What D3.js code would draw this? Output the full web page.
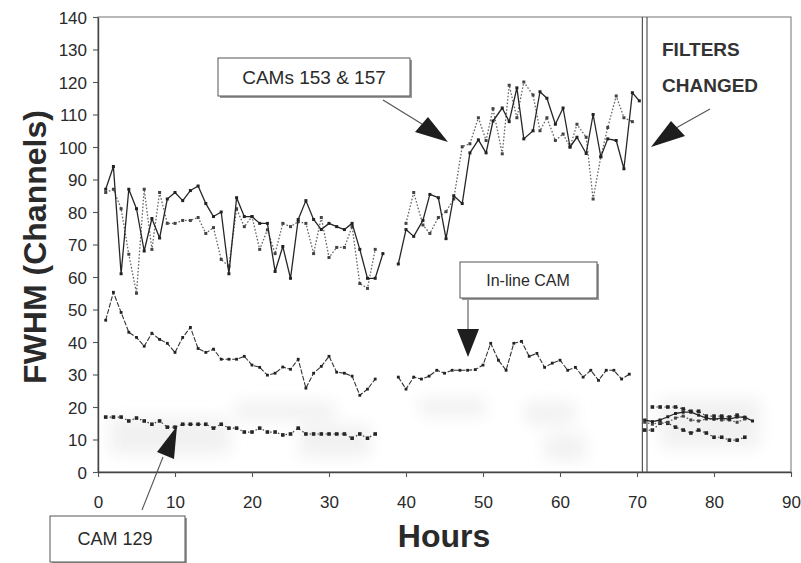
<!DOCTYPE html>
<html>
<head>
<meta charset="utf-8">
<script src="https://cdn.jsdelivr.net/npm/d3@7/dist/d3.min.js"></script>
<style>
  body { margin: 0; background: #fff; }
  svg { display: block; font-family: Arial, "Liberation Sans", sans-serif; }
</style>
</head>
<body>
<svg id="chart" width="801" height="563"></svg>
<script>
// ---- Axis ticks ----
const xTickValues = [0, 10, 20, 30, 40, 50, 60, 70, 80, 90];
const yTickValues = [0, 10, 20, 30, 40, 50, 60, 70, 80, 90, 100, 110, 120, 130, 140];

// ---- CAM 153 (solid line), two runs before the filter change ----
const cam153HoursA = [1, 2, 3, 4, 5, 6, 7, 8, 9, 10, 11, 12, 13, 14, 15, 16, 17, 18, 19, 20, 21, 22, 23, 24, 25, 26, 27, 28, 29, 30, 31, 32, 33, 34, 35, 36, 37];
const cam153ValuesA = [87, 94, 61, 87, 81, 68, 78, 72, 84, 86, 83.5, 86.6, 88, 82.6, 78.6, 80, 61, 84.4, 78.6, 78.6, 76.5, 76.5, 61.7, 69.4, 59.6, 77.7, 83.5, 77.7, 74.6, 76.5, 75.5, 74.6, 76.5, 68.5, 59.6, 59.6, 67.2];
const cam153HoursB = [39, 40, 41, 42.2, 43.1, 44.2, 45.2, 46.2, 47.3, 48.3, 49.4, 50.4, 51.3, 52.5, 53.4, 54.4, 55.3, 56.5, 57.4, 58.3, 59.4, 60.4, 61.3, 62.2, 63.4, 64.3, 65.3, 66.2, 67.3, 68.3, 69.4, 70.3];
const cam153ValuesB = [64, 74.6, 72.5, 77.4, 85.4, 84.4, 71.8, 85, 82.6, 98.2, 102.2, 98.2, 108, 112, 107.8, 118.2, 102.5, 105, 117, 115, 107, 112, 100, 103, 98, 110, 97, 102.5, 102, 93.3, 116.7, 114.2];

// ---- CAM 157 (dotted line) ----
const cam157HoursA = [1, 2, 3, 4, 5, 6, 7, 8, 9, 10, 11, 12, 13, 14, 15, 16, 17, 18, 19, 20, 21, 22, 23, 24, 25, 26, 27, 28, 29, 30, 31, 32, 33, 34, 35, 36];
const cam157ValuesA = [86, 87, 81, 67, 55, 87, 68.5, 86, 76.5, 76.5, 77.4, 77.4, 78.3, 73.4, 75.2, 65.4, 63.3, 81, 75.5, 78.6, 68.5, 74.5, 67.2, 76.5, 75.5, 77, 76.5, 67.2, 78.3, 66, 69.1, 69.1, 75.5, 58, 56.5, 68.5];
const cam157HoursB = [40, 41, 42.2, 43.1, 44.2, 45.2, 46.2, 47.3, 48.3, 49.4, 50.4, 51.3, 52.5, 53.4, 54.4, 55.3, 56.5, 57.4, 58.3, 59.4, 60.4, 61.3, 62.2, 63.4, 64.3, 65.3, 66.2, 67.3, 68.3, 69.4];
const cam157ValuesB = [76.5, 86, 76, 73.4, 78.3, 80.1, 84, 100.1, 101, 109, 102, 111.8, 97.9, 119, 109, 120, 116, 105, 109, 102, 104, 100, 107, 103, 84, 97, 106, 115.7, 109, 107.8];

// ---- In-line CAM ----
const inlineHoursA = [1, 2, 3, 4, 5, 6, 7, 8, 9, 10, 11, 12, 13, 14, 15, 16, 17, 18, 19, 20, 21, 22, 23, 24, 25, 26, 27, 28, 29, 30, 31, 32, 33, 34, 35, 36];
const inlineValuesA = [46.7, 55.3, 49.1, 43, 41.4, 38.7, 42.7, 40.8, 39.6, 36.8, 41.4, 44.5, 38, 36.8, 37.8, 34.7, 34.7, 34.7, 35.6, 32.9, 32.2, 29.8, 30.4, 32.3, 31.6, 34.7, 25.8, 30.4, 32.5, 35.6, 30.7, 30.4, 29.5, 23.6, 25.5, 28.6];
const inlineHoursB = [39, 40, 41, 42, 43, 44, 45, 46, 47, 48, 49, 50, 51, 52, 53, 54, 55, 56, 57, 58, 59, 60, 61, 62, 63, 64, 65, 66, 67, 68, 69];
const inlineValuesB = [29.2, 25.5, 29.2, 28.6, 29.5, 31.3, 30.4, 31.3, 31.3, 31.3, 31.5, 32.9, 39.6, 34.4, 31.3, 39.6, 40.2, 35.6, 36.5, 32.2, 33.5, 34.4, 31.3, 32.2, 29.2, 31.3, 28.2, 31.3, 31.3, 28.6, 30.1];

// ---- CAM 129 ----
const cam129Hours = [1, 2, 3, 4, 5, 6, 7, 8, 9, 10, 11, 12, 13, 14, 15, 16, 17, 18, 19, 20, 21, 22, 23, 24, 25, 26, 27, 28, 29, 30, 31, 32, 33, 34, 35, 36];
const cam129Values = [16.9, 16.9, 16.9, 15.7, 16.6, 15.7, 14.7, 15.7, 13.8, 13.8, 14.7, 14.7, 14.7, 14.7, 13.5, 14.7, 13.5, 13.5, 12.3, 12.3, 13.5, 12.3, 12.3, 11.4, 11.7, 13.5, 11.7, 11.7, 11.7, 11.7, 11.7, 11.7, 10.4, 11.7, 10.4, 11.7];

// ---- After the filter change ----
const filterChangeHour = 71;
const afterHoursA = [72, 73, 74, 75, 76, 77, 78, 79, 80, 81, 82, 83, 84];
const afterValuesA = [20, 20, 20, 20, 19.4, 18.7, 18.7, 17.2, 17.2, 17.2, 16.9, 17.5, 16.6];
const afterHoursB = [71, 72, 73, 74, 75, 76, 77, 78, 79, 80, 81, 82, 83, 84];
const afterValuesB = [12.9, 12.9, 15, 15, 13.8, 12.9, 12, 12.9, 12, 10.7, 10.7, 9.8, 9.8, 10.7];
const afterHoursC = [71, 72, 73, 74, 75, 76, 77, 78, 79, 80, 81, 82, 83, 84, 85];
const afterValuesC = [16, 15.5, 16, 17, 18, 18.4, 18.4, 17.5, 16.6, 16.3, 16.6, 16.3, 16.9, 16.9, 15.7];
const afterHoursD = [71, 72, 73, 74, 75, 76, 77, 78, 79, 80, 81, 82, 83, 84];
const afterValuesD = [15.3, 14.7, 15.3, 15.3, 16.6, 17.2, 16, 15.7, 16.3, 16.3, 16, 16, 15.3, 16.3];

// ---- Layout ----
const svg = d3.select("#chart");
const plot = { left: 98, right: 791, top: 17, bottom: 472 };
const x = d3.scaleLinear().domain([0, 90]).range([plot.left, plot.right]);
const y = d3.scaleLinear().domain([0, 140]).range([plot.bottom, plot.top]);
const ink = "#2a2a2a";

// soft blur used for the faint grey haze in the lower band
const defs = svg.append("defs");
defs.append("filter").attr("id", "haze").attr("x", "-30%").attr("y", "-80%")
  .attr("width", "160%").attr("height", "260%")
  .append("feGaussianBlur").attr("stdDeviation", 8);

const hazeBand = svg.append("g").attr("filter", "url(#haze)").attr("fill", "#f1f1f1");
[[110, 418, 120, 36], [235, 402, 100, 18], [300, 425, 70, 32],
 [420, 398, 65, 18], [525, 402, 50, 22], [545, 435, 40, 25], [660, 398, 100, 50]]
  .forEach(([hx, hy, hw, hh]) => {
    hazeBand.append("rect").attr("x", hx).attr("y", hy).attr("width", hw).attr("height", hh);
  });

// plot frame
svg.append("rect")
  .attr("x", plot.left).attr("y", plot.top)
  .attr("width", plot.right - plot.left).attr("height", plot.bottom - plot.top)
  .attr("fill", "none").attr("stroke", "#8a8a8a").attr("stroke-width", 1.2);

// axes
const xAxis = d3.axisBottom(x).tickValues(xTickValues).tickSize(5).tickSizeOuter(0).tickPadding(19);
const yAxis = d3.axisLeft(y).tickValues(yTickValues).tickSize(5).tickSizeOuter(0).tickPadding(6);

const gx = svg.append("g").attr("transform", `translate(0,${plot.bottom})`).call(xAxis);
const gy = svg.append("g").attr("transform", `translate(${plot.left},0)`).call(yAxis);
[gx, gy].forEach(g => {
  g.select(".domain").attr("stroke", "#444").attr("stroke-width", 1.4);
  g.selectAll(".tick line").attr("stroke", "#555").attr("stroke-width", 1.1);
  g.selectAll(".tick text").attr("fill", ink).attr("font-size", 17)
    .attr("font-family", "Arial, 'Liberation Sans', sans-serif");
});
gy.selectAll(".tick text").attr("dy", "0.36em");

// axis titles
svg.append("text")
  .attr("transform", `translate(46,247) rotate(-90)`)
  .attr("text-anchor", "middle")
  .attr("font-size", 32).attr("font-weight", "bold").attr("fill", ink)
  .text("FWHM (Channels)");
svg.append("text")
  .attr("x", 444).attr("y", 547)
  .attr("text-anchor", "middle")
  .attr("font-size", 32).attr("font-weight", "bold").attr("fill", ink)
  .text("Hours");

// filter change marker: double vertical rule
[-2.3, 2.3].forEach(off => {
  svg.append("line")
    .attr("x1", x(filterChangeHour) + off).attr("x2", x(filterChangeHour) + off)
    .attr("y1", plot.top).attr("y2", plot.bottom)
    .attr("stroke", "#555").attr("stroke-width", 1.2);
});

// ---- series drawing ----
const line = d3.line().x(d => x(d.h)).y(d => y(d.v));

function drawSeries(hours, values, style) {
  const pts = hours.map((h, i) => ({ h, v: values[i] }));
  svg.append("path").datum(pts)
    .attr("d", line)
    .attr("fill", "none")
    .attr("stroke", style.stroke)
    .attr("stroke-width", style.width)
    .attr("stroke-dasharray", style.dash || null)
    .attr("stroke-linejoin", "round");
  const s = style.marker;
  svg.append("g").selectAll("rect").data(pts).join("rect")
    .attr("x", d => x(d.h) - s / 2).attr("y", d => y(d.v) - s / 2)
    .attr("width", s).attr("height", s)
    .attr("fill", style.markerFill);
}

const solidStyle = { stroke: "#262626", width: 1.3, marker: 3, markerFill: "#222" };
const dottedStyle = { stroke: "#666", width: 1.3, dash: "1.6,1.8", marker: 3, markerFill: "#444" };
const inlineStyle = { stroke: "#333", width: 1.1, dash: "5,1.6", marker: 2.8, markerFill: "#222" };
const cam129Style = { stroke: "#444", width: 1.2, dash: "1.5,2.5", marker: 3.6, markerFill: "#262626" };

drawSeries(cam157HoursA, cam157ValuesA, dottedStyle);
drawSeries(cam157HoursB, cam157ValuesB, dottedStyle);
drawSeries(cam153HoursA, cam153ValuesA, solidStyle);
drawSeries(cam153HoursB, cam153ValuesB, solidStyle);
drawSeries(inlineHoursA, inlineValuesA, inlineStyle);
drawSeries(inlineHoursB, inlineValuesB, inlineStyle);
drawSeries(cam129Hours, cam129Values, cam129Style);

drawSeries(afterHoursA, afterValuesA, cam129Style);
drawSeries(afterHoursB, afterValuesB, cam129Style);
drawSeries(afterHoursD, afterValuesD, dottedStyle);
drawSeries(afterHoursC, afterValuesC, solidStyle);

// ---- annotations ----
function labelBox(bx, by, bw, bh, label, fontSize, cx, baseY) {
  svg.append("rect").attr("x", bx + 2).attr("y", by + 2).attr("width", bw).attr("height", bh)
    .attr("fill", "#9a9a9a");
  svg.append("rect").attr("x", bx).attr("y", by).attr("width", bw).attr("height", bh)
    .attr("fill", "#fff").attr("stroke", "#555").attr("stroke-width", 1);
  svg.append("text").attr("x", cx).attr("y", baseY)
    .attr("text-anchor", "middle").attr("font-size", fontSize).attr("fill", ink)
    .text(label);
}
function arrow(x1, y1, x2, y2, tri) {
  svg.append("line").attr("x1", x1).attr("y1", y1).attr("x2", x2).attr("y2", y2)
    .attr("stroke", "#555").attr("stroke-width", 1.1);
  svg.append("path").attr("d", "M" + tri.map(p => p.join(",")).join("L") + "Z")
    .attr("fill", "#1e1e1e");
}

// CAMs 153 & 157
arrow(383, 100, 422, 124, [[428, 117], [415, 132], [448, 142]]);
labelBox(218, 58, 192, 38, "CAMs 153 & 157", 19, 314, 84);

// In-line CAM
arrow(468, 298, 468, 330, [[457, 329], [479, 329], [468, 357]]);
labelBox(460, 262, 137, 36, "In-line CAM", 16, 528, 286);

// CAM 129
arrow(142, 510, 163, 457, [[157, 452], [177, 426], [174, 459]]);
labelBox(50, 516, 135, 46, "CAM 129", 18, 115, 545);

// FILTERS CHANGED
svg.append("text").attr("x", 662).attr("y", 56)
  .attr("font-size", 19).attr("font-weight", "bold").attr("fill", "#333").text("FILTERS");
svg.append("text").attr("x", 662).attr("y", 92)
  .attr("font-size", 19).attr("font-weight", "bold").attr("fill", "#333").text("CHANGED");
arrow(710, 109, 676, 128, [[671, 121], [685, 136], [651, 147]]);
</script>
</body>
</html>
